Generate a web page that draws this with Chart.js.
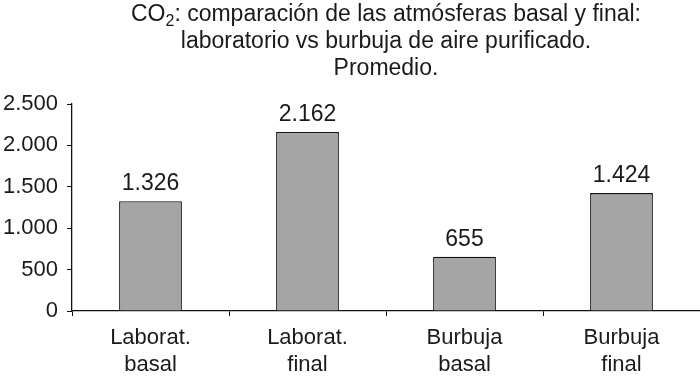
<!DOCTYPE html>
<html>
<head>
<meta charset="utf-8">
<script src="https://cdn.jsdelivr.net/npm/chart.js@4"></script>
<style>
  body { margin: 0; background: #fff; }
  #wrap { width: 700px; height: 380px; }
</style>
</head>
<body>
<div id="wrap"><canvas id="myChart"></canvas></div>
<script>
var categorias = [["Laborat.", "basal"], ["Laborat.", "final"], ["Burbuja", "basal"], ["Burbuja", "final"]];
var promedios = [1326, 2162, 655, 1424];
var titulo = ["comparación de las atmósferas basal y final:", "laboratorio vs burbuja de aire purificado.", "Promedio."];

var fuente = "'Liberation Sans', Arial, sans-serif";
var colorTexto = '#1a1a1a';

// formato con punto de miles (2.500)
function miles(v) {
	return String(v).replace(/\B(?=(\d{3})+(?!\d))/g, '.');
}

// titulo con el subindice de CO2
var tituloPlugin = {
	id: 'tituloCO2',
	afterDraw: function (chart) {
		var ctx = chart.ctx;
		var cx = (chart.chartArea.left + chart.chartArea.right) / 2;
		ctx.save();
		ctx.fillStyle = colorTexto;
		ctx.textBaseline = 'alphabetic';
		ctx.font = '23px ' + fuente;
		var resto = ': ' + titulo[0];
		var wCO = ctx.measureText('CO').width;
		ctx.font = '16px ' + fuente;
		var w2 = ctx.measureText('2').width;
		ctx.font = '23px ' + fuente;
		var wResto = ctx.measureText(resto).width;
		var x0 = cx - (wCO + w2 + wResto) / 2;
		ctx.textAlign = 'left';
		ctx.fillText('CO', x0, 21);
		ctx.font = '16px ' + fuente;
		ctx.fillText('2', x0 + wCO, 26);
		ctx.font = '23px ' + fuente;
		ctx.fillText(resto, x0 + wCO + w2, 21);
		ctx.textAlign = 'center';
		ctx.fillText(titulo[1], cx, 48);
		ctx.fillText(titulo[2], cx, 75);
		ctx.restore();
	}
};

// valores encima de las barras
var etiquetasPlugin = {
	id: 'etiquetas',
	afterDatasetsDraw: function (chart) {
		var ctx = chart.ctx;
		ctx.save();
		ctx.fillStyle = colorTexto;
		ctx.font = '23px ' + fuente;
		ctx.textAlign = 'center';
		ctx.textBaseline = 'alphabetic';
		chart.getDatasetMeta(0).data.forEach(function (bar, i) {
			ctx.fillText(miles(promedios[i]), bar.x, bar.y - 11);
		});
		ctx.restore();
	}
};

var ctx = document.getElementById('myChart').getContext('2d');
var chart = new Chart(ctx, {
	type: 'bar',
	data: {
		labels: categorias,
		datasets: [{
			data: promedios,
			backgroundColor: '#a5a5a5',
			borderColor: '#111',
			borderWidth: 1.3,
			borderSkipped: 'bottom',
			barPercentage: 0.4,
			categoryPercentage: 1
		}]
	},
	options: {
		responsive: true,
		maintainAspectRatio: false,
		animation: false,
		layout: { padding: { top: 104, right: 0, left: 0, bottom: 0 } },
		plugins: {
			legend: { display: false },
			title: { display: false },
			tooltip: { enabled: false }
		},
		scales: {
			x: {
				grid: { display: true, drawOnChartArea: false, drawTicks: true, tickLength: 5, color: '#111', offset: true },
				border: { display: true, color: '#111', width: 1.3 },
				ticks: { color: colorTexto, font: { family: fuente, size: 22, lineHeight: 1.2 }, padding: 9, maxRotation: 0 },
				afterFit: function (scale) { scale.height = 69; }
			},
			y: {
				min: 0,
				max: 2500,
				grid: { display: true, drawOnChartArea: false, drawTicks: true, tickLength: 5, color: '#111' },
				border: { display: true, color: '#111', width: 1.3 },
				ticks: {
					stepSize: 500,
					color: colorTexto,
					font: { family: fuente, size: 22 },
					padding: 9,
					callback: function (v) { return miles(v); }
				},
				afterFit: function (scale) { scale.width = 72; }
			}
		}
	},
	plugins: [tituloPlugin, etiquetasPlugin]
});
</script>
</body>
</html>
